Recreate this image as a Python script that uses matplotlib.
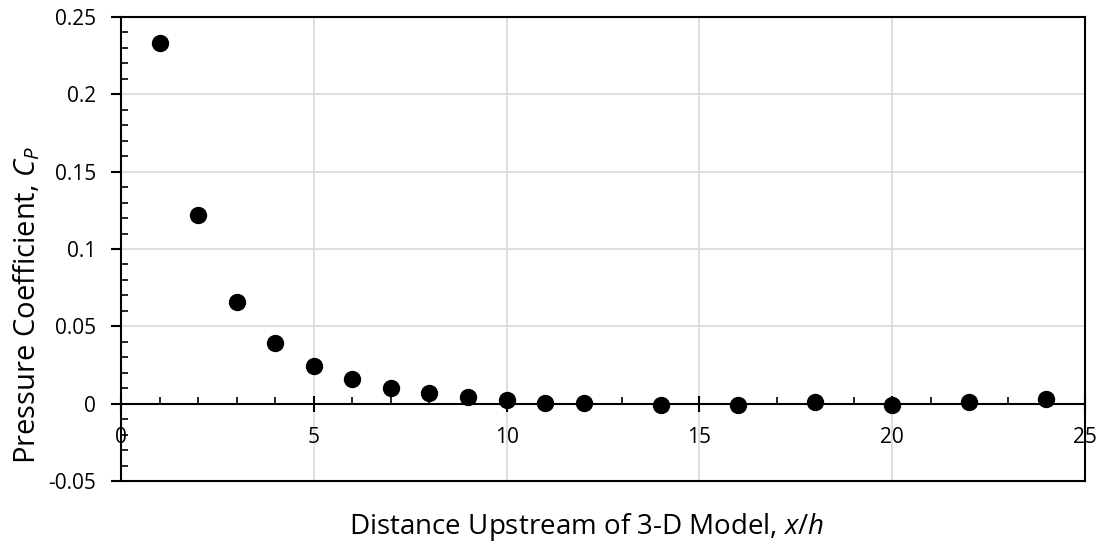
import matplotlib.pyplot as plt
from matplotlib.ticker import MultipleLocator

# pressure coefficient upstream of the 3-D model
x_h = [1, 2, 3, 4, 5, 6, 7, 8, 9, 10, 11, 12, 14, 16, 18, 20, 22, 24]
cp = [0.233, 0.122, 0.0657, 0.039, 0.0245, 0.0158, 0.0102, 0.0069, 0.0041,
      0.0024, 0.0005, 0.0007, -0.0006, -0.0011, 0.0013, -0.0009, 0.0013, 0.0032]

plt.rcParams['font.family'] = ['Open Sans', 'DejaVu Sans']
plt.rcParams['mathtext.fontset'] = 'custom'
plt.rcParams['mathtext.rm'] = 'Open Sans'
plt.rcParams['mathtext.it'] = 'Open Sans:italic'

fig = plt.figure(figsize=(11.03, 5.43), dpi=100)
ax = fig.add_axes([121 / 1103, 1 - 481 / 543, 964 / 1103, 464 / 543])

ax.scatter(x_h, cp, s=132, color='black', zorder=3, clip_on=False)

ax.set_xlim(0, 25)
ax.set_ylim(-0.05, 0.25)
ax.xaxis.set_major_locator(MultipleLocator(5))
ax.xaxis.set_minor_locator(MultipleLocator(1))
ax.yaxis.set_major_locator(MultipleLocator(0.05))
ax.yaxis.set_minor_locator(MultipleLocator(0.01))

ax.grid(True, which='major', color='#d9d9d9', lw=1.2, zorder=0)
ax.set_axisbelow(True)

# x axis crosses at y = 0, box drawn around the plot area
ax.spines['bottom'].set_position(('data', 0))
for s in ax.spines.values():
    s.set_linewidth(1.5)
ax.plot([0, 1], [0, 0], transform=ax.transAxes, color='black', lw=1.5, clip_on=False)

ax.tick_params(axis='x', which='major', direction='inout', length=11, width=1.5,
               pad=11, labelsize=15)
ax.tick_params(axis='x', which='minor', direction='in', length=5, width=1.2)
ax.tick_params(axis='y', which='major', direction='out', length=7, width=1.5,
               pad=11, labelsize=15)
ax.tick_params(axis='y', which='minor', direction='in', length=5, width=1.2)


def fmt(v, pos):
    return ('%g' % round(v, 2))


ax.yaxis.set_major_formatter(plt.FuncFormatter(fmt))
ax.xaxis.set_major_formatter(plt.FuncFormatter(fmt))

fig.text(35 / 1103, 1 - 305 / 543, r'Pressure Coefficient, $\mathit{C}_{\mathit{P}}$',
         rotation=90, rotation_mode='anchor', ha='center', va='baseline', fontsize=21)
fig.text(587 / 1103, 1 - 534 / 543,
         r'Distance Upstream of 3-D Model, $\mathit{x/h}$',
         ha='center', va='baseline', fontsize=20)

fig.savefig('out.png', dpi=100)
